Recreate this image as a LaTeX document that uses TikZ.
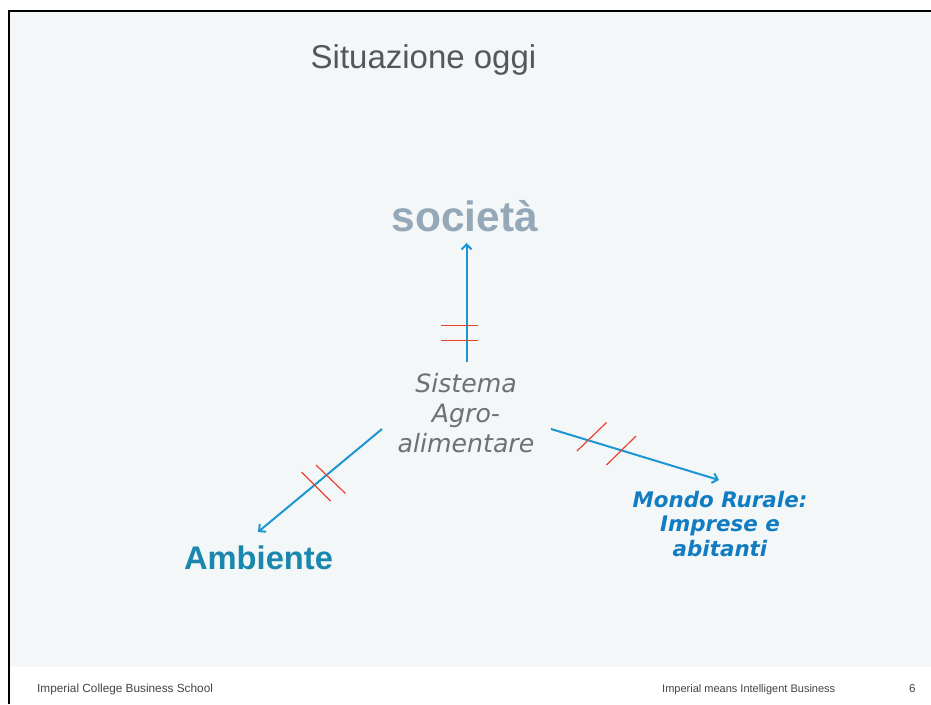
\documentclass[tikz,border=0pt]{standalone}
\usepackage{fontspec}
\setmainfont{Liberation Sans}
\newfontfamily\dejavu{DejaVu Sans}
\usetikzlibrary{arrows.meta}
\definecolor{bgfill}{HTML}{F4F7F8}
\definecolor{titlegray}{HTML}{54585E}
\definecolor{socgray}{HTML}{94A8B8}
\definecolor{sysgray}{HTML}{6F7074}
\definecolor{ambteal}{HTML}{1A88AE}
\definecolor{rurblue}{HTML}{127CC2}
\definecolor{arrowblue}{HTML}{1B96D3}
\definecolor{tickred}{HTML}{E8432E}
\definecolor{footgray}{HTML}{444444}
\tikzset{
  flow/.style={draw=arrowblue, line width=2pt, -{Straight Barb[length=5pt,width=10pt,line width=2pt]}},
  tick/.style={draw=tickred, line width=1.2pt},
  foot/.style={font=\fontsize{11.5}{13}\selectfont, text=footgray, inner sep=0pt},
}
\begin{document}
\begin{tikzpicture}[x=1pt,y=-1pt]
\useasboundingbox (0,0) rectangle (931,704);
\fill[white] (0,0) rectangle (931,704);
\fill[bgfill] (10,12) rectangle (931,667);
\draw[black, line width=2.5pt] (9.2,704) -- (9.2,11.2) -- (931,11.2);
% texts
\node[font=\fontsize{33}{38}\selectfont, text=titlegray, anchor=base] (title) at (423.5,68) {Situazione oggi};
\node[font=\fontsize{42.4}{48}\selectfont\bfseries, text=socgray, anchor=base] (soc) at (465,231) {società};
\node[font=\dejavu\itshape\fontsize{25.2}{30}\selectfont, text=sysgray, align=center, anchor=center] (sys) at (466,413) {Sistema\\Agro-\\alimentare};
\node[font=\fontsize{32.7}{36}\selectfont\bfseries, text=ambteal, anchor=base] (amb) at (258.5,569) {Ambiente};
\node[font=\dejavu\bfseries\itshape\fontsize{21.4}{24.5}\selectfont, text=rurblue, align=center, anchor=center] (rur) at (720,524) {Mondo Rurale:\\Imprese e\\abitanti};
% connector endpoints
\coordinate (upS) at (466.5,362);
\coordinate (upE) at (466.5,243);
\coordinate (lfS) at (382,429);
\coordinate (lfE) at (258,532);
\coordinate (rtS) at (551,429);
\coordinate (rtE) at (719,480);
\draw[flow] (upS) -- (upE);
\draw[flow] (lfS) -- (lfE);
\draw[flow] (rtS) -- (rtE);
% red cut marks
\draw[tick] (441,325.5) -- (478,325.5);
\draw[tick] (441,340.5) -- (478,340.5);
\draw[tick] (301.5,472) -- (330.5,501);
\draw[tick] (316,465) -- (345.5,493.5);
\draw[tick] (577,451) -- (606.5,422.5);
\draw[tick] (606.5,465) -- (636,436);
% footer
\node[foot, font=\fontsize{11.8}{13}\selectfont, anchor=base west] (f1) at (37,692) {Imperial College Business School};
\node[foot, font=\fontsize{11}{13}\selectfont, anchor=base west] (f2) at (662,692) {Imperial means Intelligent Business};
\node[foot, anchor=base west] (f3) at (909,692) {6};
\end{tikzpicture}
\end{document}
